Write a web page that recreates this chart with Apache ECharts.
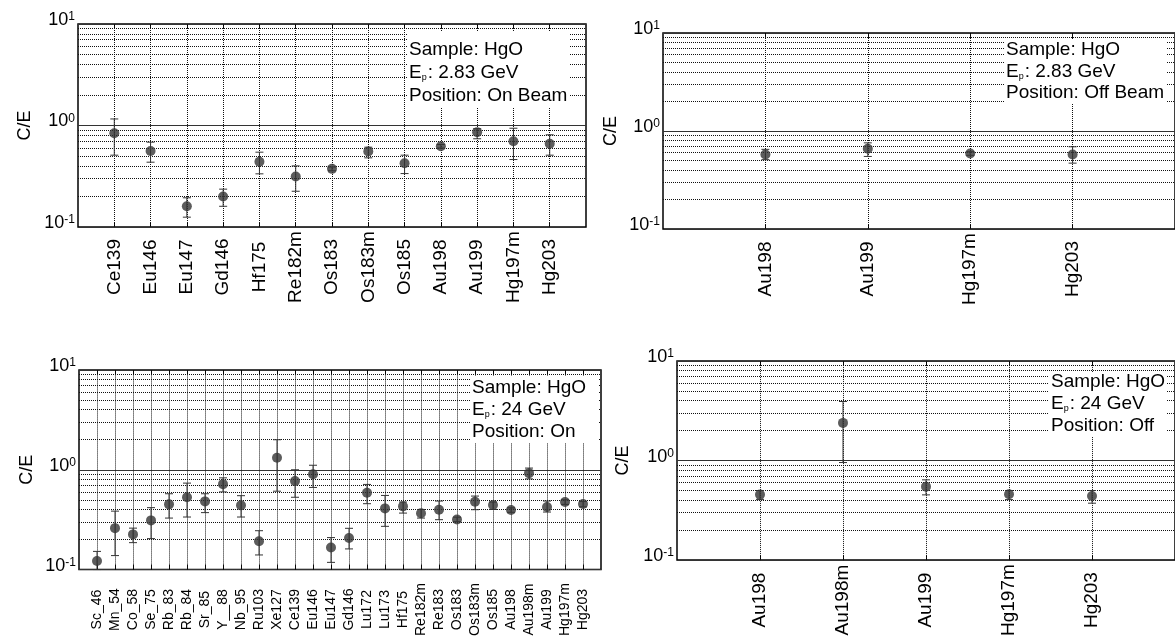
<!DOCTYPE html>
<html>
<head>
<meta charset="utf-8">
<script src="https://cdn.jsdelivr.net/npm/echarts@6/dist/echarts.min.js"></script>
<style>
html,body{margin:0;padding:0;background:#fff;}
#chart{width:1175px;height:639px;}
</style>
</head>
<body>
<div id="chart"></div>
<script>
// ---------- DATA ----------
const topOnCats = ['Ce139','Eu146','Eu147','Gd146','Hf175','Re182m','Os183','Os183m','Os185','Au198','Au199','Hg197m','Hg203'];
const topOnVals = [0.84, 0.56, 0.16, 0.20, 0.44, 0.315, 0.374, 0.555, 0.425, 0.625, 0.86, 0.70, 0.66];
const topOnLow  = [0.51, 0.435, 0.125, 0.16, 0.334, 0.225, 0.358, 0.48, 0.336, 0.60, 0.74, 0.462, 0.51];
const topOnHigh = [1.16, 0.685, 0.194, 0.236, 0.546, 0.40, 0.39, 0.611, 0.51, 0.65, 0.93, 0.94, 0.81];

const topOffCats = ['Au198','Au199','Hg197m','Hg203'];
const topOffVals = [0.575, 0.66, 0.59, 0.575];
const topOffLow  = [0.51, 0.55, 0.565, 0.47];
const topOffHigh = [0.65, 0.757, 0.615, 0.69];

const botOnCats = ['Sc_46','Mn_54','Co_58','Se_75','Rb_83','Rb_84','Sr_85','Y__88','Nb_95','Ru103','Xe127','Ce139','Eu146','Eu147','Gd146','Lu172','Lu173','Hf175','Re182m','Re183','Os183','Os183m','Os185','Au198','Au198m','Au199','Hg197m','Hg203'];
const botOnVals = [0.122, 0.26, 0.225, 0.311, 0.45, 0.53, 0.482, 0.718, 0.44, 0.192, 1.32, 0.77, 0.9, 0.166, 0.207, 0.589, 0.41, 0.43, 0.366, 0.398, 0.318, 0.479, 0.443, 0.395, 0.925, 0.423, 0.475, 0.453];
const botOnLow  = [0.10, 0.138, 0.186, 0.204, 0.328, 0.336, 0.372, 0.60, 0.336, 0.14, 0.61, 0.53, 0.665, 0.118, 0.161, 0.457, 0.271, 0.368, 0.328, 0.316, 0.302, 0.398, 0.40, 0.375, 0.81, 0.377, 0.45, 0.425];
const botOnHigh = [0.152, 0.385, 0.26, 0.417, 0.575, 0.735, 0.575, 0.83, 0.55, 0.245, 2.0, 1.0, 1.11, 0.209, 0.259, 0.713, 0.553, 0.475, 0.40, 0.486, 0.335, 0.545, 0.475, 0.415, 1.04, 0.486, 0.50, 0.48];

const botOffCats = ['Au198','Au198m','Au199','Hg197m','Hg203'];
const botOffVals = [0.455, 2.39, 0.547, 0.459, 0.441];
const botOffLow  = [0.405, 0.955, 0.452, 0.405, 0.373];
const botOffHigh = [0.50, 3.92, 0.64, 0.50, 0.50];

const minorGridVals = [0.2,0.3,0.4,0.5,0.6,0.7,0.8,0.9,2,3,4,5,6,7,8,9];

const boxTexts = [
  ['Sample: HgO', 'E{s|p}: 2.83 GeV', 'Position: On Beam'],
  ['Sample: HgO', 'E{s|p}: 2.83 GeV', 'Position: Off Beam'],
  ['Sample: HgO', 'E{s|p}: 24 GeV', 'Position: On'],
  ['Sample: HgO', 'E{s|p}: 24 GeV', 'Position: Off']
];
const yName = 'C/E';

// ---------- LAYOUT ----------
const FONT = "'Liberation Sans', Arial, Helvetica, sans-serif";
const panels = [
  {cats: topOnCats, vals: topOnVals, low: topOnLow, high: topOnHigh,
   grid: {left: 78, top: 24, width: 508, height: 203}, xmax: 14, lab: 19, nameGap: 44,
   box: {x: 408, y: 31, w: 162, h: 76, tx: 409, ty: [50, 73, 96]}},
  {cats: topOffCats, vals: topOffVals, low: topOffLow, high: topOffHigh,
   grid: {left: 663, top: 33, width: 515, height: 196}, xmax: 5, lab: 19, nameGap: 43,
   box: {x: 1004, y: 40, w: 163, h: 63, tx: 1006, ty: [50, 72, 93]}},
  {cats: botOnCats, vals: botOnVals, low: botOnLow, high: botOnHigh,
   grid: {left: 79, top: 370, width: 522, height: 200}, xmax: 29, lab: 14, nameGap: 43,
   box: {x: 471, y: 376, w: 127, h: 67, tx: 472, ty: [388, 410, 432]}},
  {cats: botOffCats, vals: botOffVals, low: botOffLow, high: botOffHigh,
   grid: {left: 677, top: 361, width: 499, height: 201}, xmax: 6, lab: 19, nameGap: 45,
   box: {x: 1049, y: 372, w: 117, h: 65, tx: 1051, ty: [382, 404, 426]}}
];

const option = {
  backgroundColor: '#fff',
  animation: false,
  grid: [], xAxis: [], yAxis: [], series: [], graphic: []
};

panels.forEach((p, k) => {
  const pos = p.cats.map((c, i) => i + 1);
  option.grid.push(Object.assign({show: true, borderColor: '#000', borderWidth: 1.5, backgroundColor: 'transparent', containLabel: false}, p.grid));
  option.xAxis.push({
    type: 'value', gridIndex: k, min: 0, max: p.xmax, position: 'bottom',
    axisLine: {show: false},
    axisTick: {show: true, inside: true, length: 5, customValues: pos, lineStyle: {color: '#000'}},
    splitLine: {show: false},
    axisLabel: {
      show: true, rotate: 90, align: 'center', verticalAlign: 'middle', margin: 40,
      fontSize: p.lab, fontFamily: FONT, color: '#000', customValues: pos,
      formatter: (v) => p.cats[Math.round(v) - 1] || ''
    }
  });
  option.xAxis.push({
    type: 'value', gridIndex: k, min: 0, max: p.xmax, position: 'top',
    axisLine: {show: false},
    axisTick: {show: true, inside: true, length: 5, customValues: pos, lineStyle: {color: '#000'}},
    splitLine: {show: false}, axisLabel: {show: false}
  });
  option.yAxis.push({
    type: 'log', logBase: 10, gridIndex: k, min: 0.1, max: 10,
    name: yName, nameLocation: 'middle', nameGap: p.nameGap, nameRotate: 90,
    nameTextStyle: {fontSize: 18, fontFamily: FONT, color: '#000'},
    axisLine: {show: false}, axisTick: {show: false},
    splitLine: {show: true, lineStyle: {color: '#333', type: 'solid', width: 1}},
    axisLabel: {
      show: true, margin: 3, color: '#000', fontFamily: FONT,
      showMinLabel: true, showMaxLabel: true, padding: [0, 0, 8, 0],
      formatter: (v) => '{b|10}{s|' + Math.round(Math.log10(v)) + '}',
      rich: {
        b: {fontSize: 18, fontFamily: FONT, color: '#000', verticalAlign: 'bottom'},
        s: {fontSize: 12, fontFamily: FONT, color: '#000', verticalAlign: 'top'}
      }
    }
  });
  // error bars + dotted grid lines (minor horizontal, vertical at categories)
  option.series.push({
    type: 'custom', xAxisIndex: 2 * k, yAxisIndex: k, z: 2, clip: false,
    data: p.cats.map((c, i) => [i + 1, p.low[i], p.high[i]]),
    encode: {x: 0, y: [1, 2]},
    renderItem: (params, api) => {
      const x = api.value(0);
      const a = api.coord([x, api.value(1)]);
      const b = api.coord([x, api.value(2)]);
      const cw = 4;
      const st = {stroke: '#333', lineWidth: 1};
      return {type: 'group', children: [
        {type: 'line', shape: {x1: a[0], y1: a[1], x2: b[0], y2: b[1]}, style: st},
        {type: 'line', shape: {x1: a[0] - cw, y1: a[1], x2: a[0] + cw, y2: a[1]}, style: st},
        {type: 'line', shape: {x1: b[0] - cw, y1: b[1], x2: b[0] + cw, y2: b[1]}, style: st}
      ]};
    },
    markLine: {
      silent: true, symbol: 'none', animation: false, z: 1, precision: 4,
      label: {show: false},
      lineStyle: {color: '#111', type: [1, 1], width: 1},
      data: minorGridVals.map(v => ({yAxis: v})).concat(pos.map(v => ({xAxis: v})))
    }
  });
  option.series.push({
    type: 'scatter', xAxisIndex: 2 * k, yAxisIndex: k, z: 3,
    symbol: 'circle', symbolSize: 10,
    itemStyle: {color: '#333'},
    data: p.cats.map((c, i) => [i + 1, p.vals[i]])
  });
  const bx = p.box;
  option.graphic.push({type: 'rect', shape: {x: bx.x, y: bx.y, width: bx.w, height: bx.h}, style: {fill: '#fff'}, z: 100, silent: true});
  boxTexts[k].forEach((t, j) => {
    option.graphic.push({
      type: 'text', x: bx.tx, y: bx.ty[j], z: 101, silent: true,
      style: {
        text: t, fontSize: 19, fontFamily: FONT, fill: '#000', align: 'left', verticalAlign: 'middle',
        rich: {s: {fontSize: 9, fontFamily: FONT, fill: '#000', verticalAlign: 'bottom', padding: [0, 1, 0, 0]}}
      }
    });
  });
});

const chart = echarts.init(document.getElementById('chart'), null, {renderer: 'canvas'});
chart.setOption(option);
</script>
</body>
</html>
